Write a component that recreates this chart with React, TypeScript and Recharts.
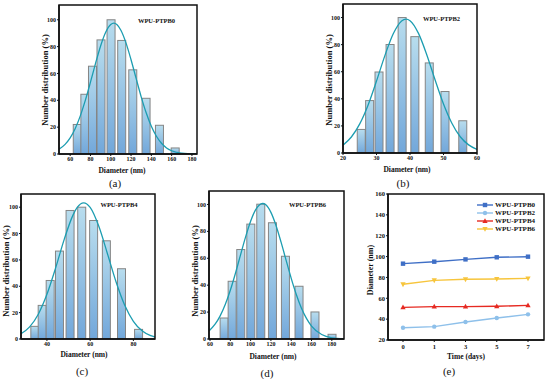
import React from 'react';
import { ComposedChart, LineChart, Bar, Line, XAxis, YAxis, Legend } from 'recharts';

const FONT = '"Liberation Serif", "Times New Roman", serif';

// ---------- (a) WPU-PTPB0 ----------
const aCenters = [67, 74.5, 82, 90.4, 100.3, 110.8, 121.7, 134.8, 148, 163.5];
const aCounts = [22, 44.5, 65.4, 85, 100, 84.6, 62.7, 41.5, 21.4, 4.5];
const aFitX = [49, 55, 60, 65, 70, 75, 80, 85, 90, 95, 100, 103, 106, 110, 115, 120, 125, 130, 135, 140, 145, 150, 155, 160, 170, 184];
const aFitY = [3.6, 7.2, 12.0, 19.0, 28.4, 40.1, 53.5, 67.5, 80.5, 90.7, 96.5, 97.5, 96.5, 92.2, 82.8, 70.2, 56.3, 42.6, 30.5, 20.6, 13.2, 8.0, 4.5, 2.4, 0.6, 0.05];
const aTicks = [60, 80, 100, 120, 140, 160, 180];

// ---------- (b) WPU-PTPB2 ----------
const bCenters = [25.45, 27.95, 30.75, 34.05, 37.65, 41.45, 45.75, 50.45, 55.75];
const bCounts = [17.4, 38.7, 59.8, 80.1, 100, 85.9, 66.5, 45.4, 23.8];
const bFitX = [20, 22.5, 25, 27.5, 30, 32.5, 35, 37.5, 38.8, 40, 42.5, 45, 47.5, 50, 52.5, 55, 57.5, 60];
const bFitY = [5.8, 11.8, 21.5, 35.5, 53.1, 71.9, 88.0, 97.5, 98.8, 97.7, 88.5, 72.6, 53.9, 36.2, 22.0, 12.0, 6.0, 2.7];
const bTicks = [20, 30, 40, 50, 60];

// ---------- (c) WPU-PTPB4 ----------
const cCenters = [34.4, 37.8, 41.5, 45.8, 50.7, 56.1, 61.6, 67.5, 74.5, 82.4];
const cCounts = [9.6, 25.5, 44.4, 66.7, 97.5, 100, 89.9, 74.5, 53.3, 7.3];
const cFitX = [28, 32, 36, 40, 44, 48, 52, 54, 57, 60, 64, 68, 72, 76, 80, 84, 88, 90];
const cFitY = [4.0, 9.2, 18.8, 33.9, 53.8, 75.6, 93.8, 99.8, 103.3, 99.8, 85.5, 64.7, 43.3, 25.6, 13.4, 6.2, 2.5, 1.5];
const cTicks = [40, 60, 80];

// ---------- (d) WPU-PTPB6 ----------
const dCenters = [73.9, 81.8, 90.3, 100.2, 110, 121.5, 134.3, 147.7, 163.4, 180.2];
const dCounts = [15.6, 42.9, 66.5, 85.4, 100.2, 86.4, 61.5, 39.2, 20.1, 3.5];
const dFitX = [59, 65, 70, 75, 80, 85, 90, 95, 100, 105, 111.8, 115, 120, 125, 130, 135, 140, 145, 150, 155, 160, 170, 180, 192];
const dFitY = [6.0, 11.0, 17.2, 25.6, 36.2, 48.7, 62.3, 75.7, 87.5, 96.1, 100.7, 99.7, 94.1, 84.4, 72.0, 58.4, 45.1, 33.1, 23.0, 15.3, 9.6, 3.3, 0.9, 0.15];
const dTicks = [60, 80, 100, 120, 140, 160, 180];

const yTicksHist = [0, 20, 40, 60, 80, 100];

// ---------- (e) stability ----------
const days = ['0', '1', '3', '5', '7'];
const ptpb0 = [93.2, 95.1, 97.3, 99.3, 99.9];
const ptpb2 = [31.8, 32.8, 37.3, 41.1, 44.6];
const ptpb4 = [51.3, 52.0, 52.0, 52.3, 53.2];
const ptpb6 = [73.4, 77.2, 78.2, 78.5, 79.1];
const eYTicks = [20, 40, 60, 80, 100, 120, 140, 160];

const seriesE = [
  { key: 'b0', name: 'WPU-PTPB0', color: '#3f6fc6', marker: 'square', values: ptpb0 },
  { key: 'b2', name: 'WPU-PTPB2', color: '#8ec0ea', marker: 'circle', values: ptpb2 },
  { key: 'b4', name: 'WPU-PTPB4', color: '#e62a22', marker: 'up', values: ptpb4 },
  { key: 'b6', name: 'WPU-PTPB6', color: '#f7c53c', marker: 'down', values: ptpb6 },
];

const eRows = days.map((d, i) => {
  const row: any = { day: d };
  seriesE.forEach((s) => { row[s.key] = s.values[i]; });
  return row;
});

const X_AXIS_H = 20;

// panel layout boxes (chart boxes and their margins)
const layoutA = { left: 0, top: 0, width: 200, height: 190, margin: { top: 5, right: 3, bottom: 16, left: 0 }, yWidth: 59 };
const layoutB = { left: 280, top: 0, width: 210, height: 190, margin: { top: 4, right: 13, bottom: 17, left: 0 }, yWidth: 63 };
const layoutC = { left: 0, top: 180, width: 170, height: 190, margin: { top: 14, right: 15, bottom: 11, left: 0 }, yWidth: 21 };
const layoutD = { left: 180, top: 180, width: 180, height: 190, margin: { top: 11, right: 16, bottom: 11, left: 0 }, yWidth: 29 };
const layoutE = { left: 360, top: 180, width: 190, height: 199, margin: { top: 14, right: 6, bottom: 19, left: 0 }, yWidth: 28 };

const frameOf = (l: any) => ({
  x: l.left + l.margin.left + l.yWidth,
  y: l.top + l.margin.top,
  w: l.width - l.margin.left - l.margin.right - l.yWidth,
  h: l.height - l.margin.top - l.margin.bottom - X_AXIS_H,
});

const tickStyle = { fontSize: 6, fontFamily: FONT, fontWeight: 'bold', fill: '#111' };
const axisStroke = { stroke: '#111', strokeWidth: 1.5 };

const HistBar = (props: any) => {
  const { x, y, width, height, fill } = props;
  if (x == null || y == null || !height) return <g />;
  const cx = x + width / 2;
  const w = 8;
  return <rect x={cx - w / 2} y={y} width={w} height={Math.max(height, 0)} fill={fill} stroke="#858585" strokeWidth={1} />;
};

function Histogram(p: any) {
  const l = p.layout;
  const bars = p.centers.map((c: number, i: number) => ({ x: c, n: p.counts[i] }));
  const fit = p.fitX.map((x: number, i: number) => ({ x, f: p.fitY[i] }));
  return (
    <div style={{ position: 'absolute', left: l.left, top: l.top }}>
      <ComposedChart width={l.width} height={l.height} margin={l.margin} data={bars}>
        <defs>
          <linearGradient id={p.id} x1="0" y1="0" x2="0" y2="1">
            <stop offset="0%" stopColor="#b8ddee" />
            <stop offset="100%" stopColor="#72a7da" />
          </linearGradient>
        </defs>
        <XAxis dataKey="x" type="number" domain={p.xDomain} ticks={p.xTicks} interval={0} allowDataOverflow
          height={X_AXIS_H} tickSize={2} tickMargin={1} tick={tickStyle} axisLine={axisStroke} tickLine={{ stroke: '#111' }} />
        <YAxis type="number" domain={[0, p.yMax]} ticks={yTicksHist} interval={0} allowDataOverflow
          width={l.yWidth} tickSize={2} tickMargin={1} tick={tickStyle} axisLine={axisStroke} tickLine={{ stroke: '#111' }} />
        <Bar dataKey="n" fill={`url(#${p.id})`} shape={HistBar} isAnimationActive={false} />
        <Line data={fit} dataKey="f" type="monotone" stroke="#1c9db1" strokeWidth={1.3} dot={false} isAnimationActive={false} />
      </ComposedChart>
    </div>
  );
}

const drawMarker = (kind: string, cx: number, cy: number, color: string, k: string) => {
  const s = 2.2;
  if (kind === 'square') return <rect key={k} x={cx - s} y={cy - s} width={2 * s} height={2 * s} fill={color} />;
  if (kind === 'circle') return <circle key={k} cx={cx} cy={cy} r={s} fill={color} />;
  if (kind === 'up') return <path key={k} d={`M${cx},${cy - s * 1.3}L${cx + s * 1.2},${cy + s * 0.9}L${cx - s * 1.2},${cy + s * 0.9}Z`} fill={color} />;
  return <path key={k} d={`M${cx},${cy + s * 1.3}L${cx + s * 1.2},${cy - s * 0.9}L${cx - s * 1.2},${cy - s * 0.9}Z`} fill={color} />;
};

const makeDot = (kind: string, color: string, key: string) => (pp: any) => {
  const k = `${key}-${pp.index}`;
  if (pp.cx == null || pp.cy == null) return <g key={k} />;
  return drawMarker(kind, pp.cx, pp.cy, color, k);
};

const LegendE = (props: any) => {
  const payload = props.payload || [];
  return (
    <div style={{ fontFamily: FONT, fontSize: 7, fontWeight: 'bold', color: '#111', lineHeight: '8px' }}>
      {payload.map((e: any, i: number) => {
        const s = seriesE.find((q) => q.name === e.value) || seriesE[i];
        return (
          <div key={i} style={{ display: 'flex', alignItems: 'center', height: 8, whiteSpace: 'nowrap' }}>
            <svg width={17} height={8} style={{ display: 'block' }}>
              <line x1={0} y1={4} x2={16} y2={4} stroke={s.color} strokeWidth={1.4} />
              {drawMarker(s.marker, 8, 4, s.color, 'm')}
            </svg>
            <span style={{ marginLeft: 1 }}>{e.value}</span>
          </div>
        );
      })}
    </div>
  );
};

function PanelE() {
  const l = layoutE;
  return (
    <div style={{ position: 'absolute', left: l.left, top: l.top }}>
      <LineChart width={l.width} height={l.height} margin={l.margin} data={eRows}>
        <XAxis dataKey="day" type="category" height={X_AXIS_H} tickSize={2} tickMargin={2} padding={{ left: 15, right: 16 }}
          tick={{ ...tickStyle, fontSize: 6.5 }} axisLine={axisStroke} tickLine={{ stroke: '#111' }} interval={0} />
        <YAxis type="number" domain={[20, 160]} ticks={eYTicks} interval={0} allowDataOverflow width={l.yWidth}
          tickSize={2} tickMargin={1} tick={{ ...tickStyle, fontSize: 6.5 }} axisLine={axisStroke} tickLine={{ stroke: '#111' }} />
        <Legend layout="vertical" align="center" verticalAlign="middle" content={<LegendE />}
          wrapperStyle={{ left: 117, top: 21, width: 72, height: 34 }} />
        {seriesE.map((s) => (
          <Line key={s.key} dataKey={s.key} name={s.name} type="linear" stroke={s.color} strokeWidth={1.4}
            dot={makeDot(s.marker, s.color, s.key)} activeDot={false} isAnimationActive={false} />
        ))}
      </LineChart>
    </div>
  );
}

const T = (p: any) => (
  <text x={p.x} y={p.y} textAnchor="middle" dominantBaseline="central"
    transform={p.rot ? `rotate(-90 ${p.x} ${p.y})` : undefined}
    fontFamily={FONT} fontSize={p.size} fontWeight={p.bold ? 'bold' : 'normal'} fill="#111">{p.children}</text>
);

const frames = [layoutA, layoutB, layoutC, layoutD, layoutE].map(frameOf);

export default function App() {
  return (
    <div style={{ position: 'absolute', left: 0, top: 0, width: 550, height: 379, background: '#fff', overflow: 'hidden' }}>
      <Histogram id="gA" layout={layoutA} xDomain={[49, 185]} yMax={111} xTicks={aTicks} centers={aCenters} counts={aCounts} fitX={aFitX} fitY={aFitY} />
      <Histogram id="gB" layout={layoutB} xDomain={[20, 60]} yMax={110} xTicks={bTicks} centers={bCenters} counts={bCounts} fitX={bFitX} fitY={bFitY} />
      <Histogram id="gC" layout={layoutC} xDomain={[28, 90]} yMax={110} xTicks={cTicks} centers={cCenters} counts={cCounts} fitX={cFitX} fitY={cFitY} />
      <Histogram id="gD" layout={layoutD} xDomain={[59, 192]} yMax={110} xTicks={dTicks} centers={dCenters} counts={dCounts} fitX={dFitX} fitY={dFitY} />
      <PanelE />
      <svg width={550} height={379} style={{ position: 'absolute', left: 0, top: 0, pointerEvents: 'none' }}>
        {frames.map((f, i) => (
          <rect key={'fr' + i} x={f.x} y={f.y} width={f.w} height={f.h} fill="none" stroke="#111" strokeWidth={1.5} />
        ))}
        <T x={45} y={80} size={8.5} bold rot>Number distribution (%)</T>
        <T x={122} y={170} size={7.5} bold>Diameter (nm)</T>
        <T x={156.5} y={20} size={6.5} bold>WPU-PTPB0</T>
        <T x={115} y={183} size={11}>(a)</T>

        <T x={329} y={80} size={8.5} bold rot>Number distribution (%)</T>
        <T x={407} y={169} size={7.5} bold>Diameter (nm)</T>
        <T x={441.5} y={18} size={6.5} bold>WPU-PTPB2</T>
        <T x={403} y={183} size={11}>(b)</T>

        <T x={6} y={271} size={8.5} bold rot>Number distribution (%)</T>
        <T x={84} y={354} size={7.5} bold>Diameter (nm)</T>
        <T x={119} y={204} size={6.5} bold>WPU-PTPB4</T>
        <T x={82} y={371} size={11}>(c)</T>

        <T x={195} y={271} size={8.5} bold rot>Number distribution (%)</T>
        <T x={273} y={356} size={7.5} bold>Diameter (nm)</T>
        <T x={307.5} y={204} size={6.5} bold>WPU-PTPB6</T>
        <T x={267} y={373} size={11}>(d)</T>

        <T x={370} y={270} size={8} bold rot>Diameter (nm)</T>
        <T x={466} y={356} size={7.5} bold>Time (days)</T>
        <T x={449} y={371} size={11}>(e)</T>
      </svg>
    </div>
  );
}
